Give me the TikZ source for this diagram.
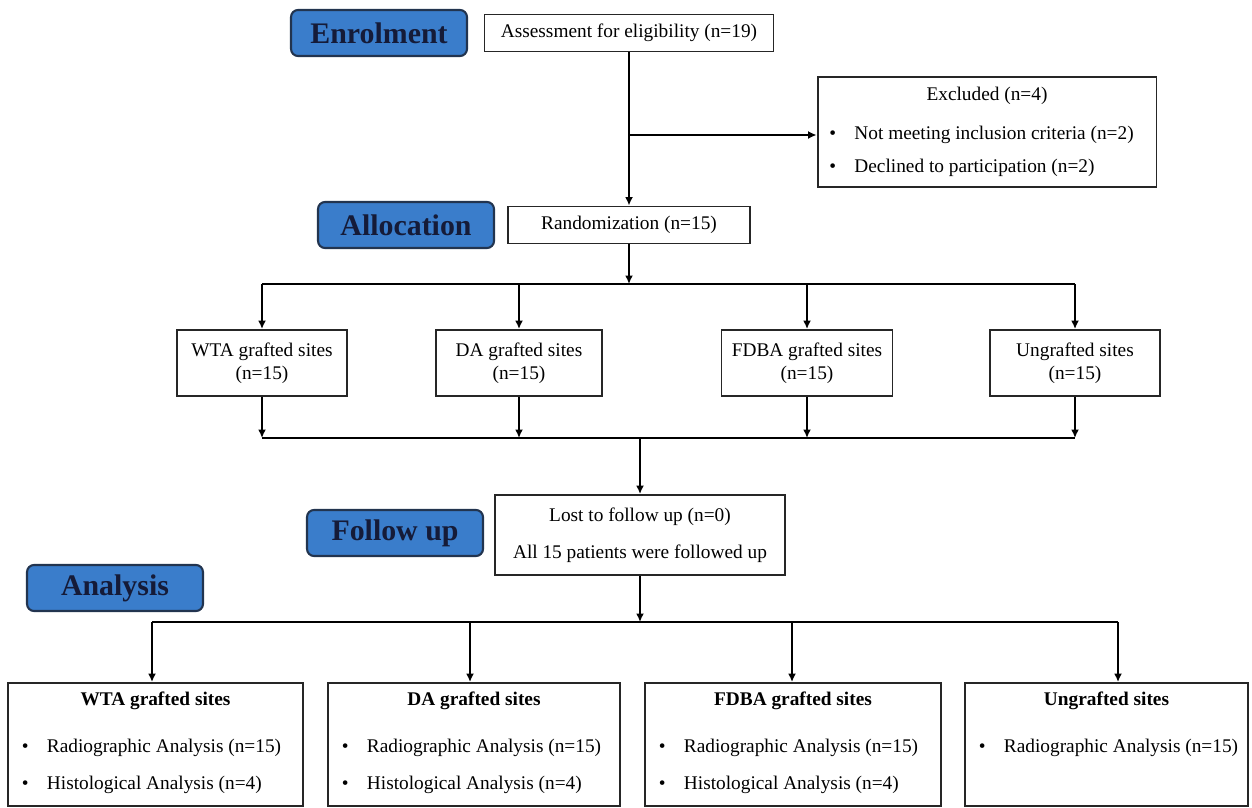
\documentclass[tikz,border=0pt]{standalone}
\usepackage{fontspec}
\setmainfont{Liberation Serif}
\usetikzlibrary{arrows.meta}
\definecolor{phasefill}{HTML}{3A7DCB}
\definecolor{phaseline}{HTML}{22344F}
\definecolor{phasetext}{HTML}{151B38}
\newcommand{\bmark}{\makebox[0.5cm][l]{\textbullet}}

\begin{document}
\begin{tikzpicture}[x=0.02cm,y=-0.02cm,line width=1pt,>={Latex[length=1.7mm,width=1.6mm]},
  font=\fontsize{11}{13}\selectfont,
  phase/.style={draw=phaseline,fill=phasefill,rounded corners=4pt,line width=1.2pt,
    minimum width=3.52cm,minimum height=0.92cm,text=phasetext,font=\fontsize{17}{20}\selectfont\bfseries},
  box/.style={draw=black!85,line width=1.1pt,minimum height=0.74cm,inner sep=2pt},
  grp/.style={box,minimum height=1.32cm,align=center},
  res/.style={box,minimum height=2.46cm},
  txt/.style={inner sep=0pt,align=left,font=\fontsize{11}{21}\selectfont}]
\useasboundingbox (0,0) rectangle (1252,808);

% phase labels
\node[phase] (enrol) at (379,33) {Enrolment};
\node[phase] (alloc) at (406,225) {Allocation};
\node[phase] (follow) at (395,533) {Follow up};
\node[phase] (anal) at (115,588) {Analysis};

% enrolment and allocation
\node[box,minimum width=5.78cm] (assess) at (629,33) {Assessment for eligibility (n=19)};
\node[box,minimum width=6.78cm,minimum height=2.2cm] (excl) at (987,132) {};
\node[yshift=-0.4cm] (exclt) at (excl.north) {Excluded (n=4)};
\node[txt,anchor=west,xshift=0.24cm,yshift=-0.39cm,font=\fontsize{11}{18.7}\selectfont] (exclb) at (excl.west)
  {\bmark Not meeting inclusion criteria (n=2)\\\bmark Declined to participation (n=2)};
\node[box,minimum width=4.84cm] (rand) at (629,225) {Randomization (n=15)};

% groups
\node[grp,minimum width=3.4cm] (wta) at (262,363) {WTA grafted sites\\(n=15)};
\node[grp,minimum width=3.32cm] (da) at (519,363) {DA grafted sites\\(n=15)};
\node[grp,minimum width=3.42cm] (fdba) at (807,363) {FDBA grafted sites\\(n=15)};
\node[grp,minimum width=3.4cm] (ungr) at (1075,363) {Ungrafted sites\\(n=15)};

% follow up
\node[box,minimum width=5.8cm,minimum height=1.6cm,align=center] (lost) at (640,535)
  {Lost to follow up (n=0)\\[8pt]All 15 patients were followed up};

% analysis
\node[res,minimum width=5.9cm] (wtaR) at (155.5,744.5) {};
\node[res,minimum width=5.84cm] (daR) at (474,744.5) {};
\node[res,minimum width=5.92cm] (fdbaR) at (793,744.5) {};
\node[res,minimum width=5.66cm] (ungrR) at (1106.5,744.5) {};
\foreach \n/\t in {wtaR/WTA grafted sites,daR/DA grafted sites,fdbaR/FDBA grafted sites,ungrR/Ungrafted sites}
  \node[font=\fontsize{11}{13}\selectfont\bfseries,yshift=-0.38cm] (\n-t) at (\n.north) {\t};
\foreach \n in {wtaR,daR,fdbaR}
  \node[txt,anchor=west,xshift=0.28cm,yshift=-0.44cm] (\n-b) at (\n.west)
    {\bmark Radiographic Analysis (n=15)\\\bmark Histological Analysis (n=4)};
\node[txt,anchor=west,xshift=0.28cm,yshift=-0.07cm] (ungrR-b) at (ungrR.west) {\bmark Radiographic Analysis (n=15)};

% connectors
\coordinate (excJ) at (629,135);
\draw[->] (assess) -- (rand);
\draw[->] (excJ) -- (excl.west |- excJ);

\coordinate (splitA) at (629,284);
\draw[->] (rand) -- (splitA);
\draw (wta.north |- splitA) -- (ungr.north |- splitA);
\foreach \n in {wta,da,fdba,ungr} \draw[->] (\n.north |- splitA) -- (\n);

\coordinate (mergeA) at (640,438);
\foreach \n in {wta,da,fdba,ungr} \draw[->] (\n) -- (\n.south |- mergeA);
\draw (wta.south |- mergeA) -- (ungr.south |- mergeA);
\draw[->] (mergeA) -- (lost);

\coordinate (splitB) at (640,622);
\draw[->] (lost) -- (splitB);
\foreach \n/\x in {wtaR/152,daR/470,fdbaR/792,ungrR/1118}{
  \coordinate (\n-in) at (\x,622);
  \draw[->] (\n-in) -- (\n-in |- \n.north);
}
\draw (wtaR-in) -- (ungrR-in);
\end{tikzpicture}
\end{document}
